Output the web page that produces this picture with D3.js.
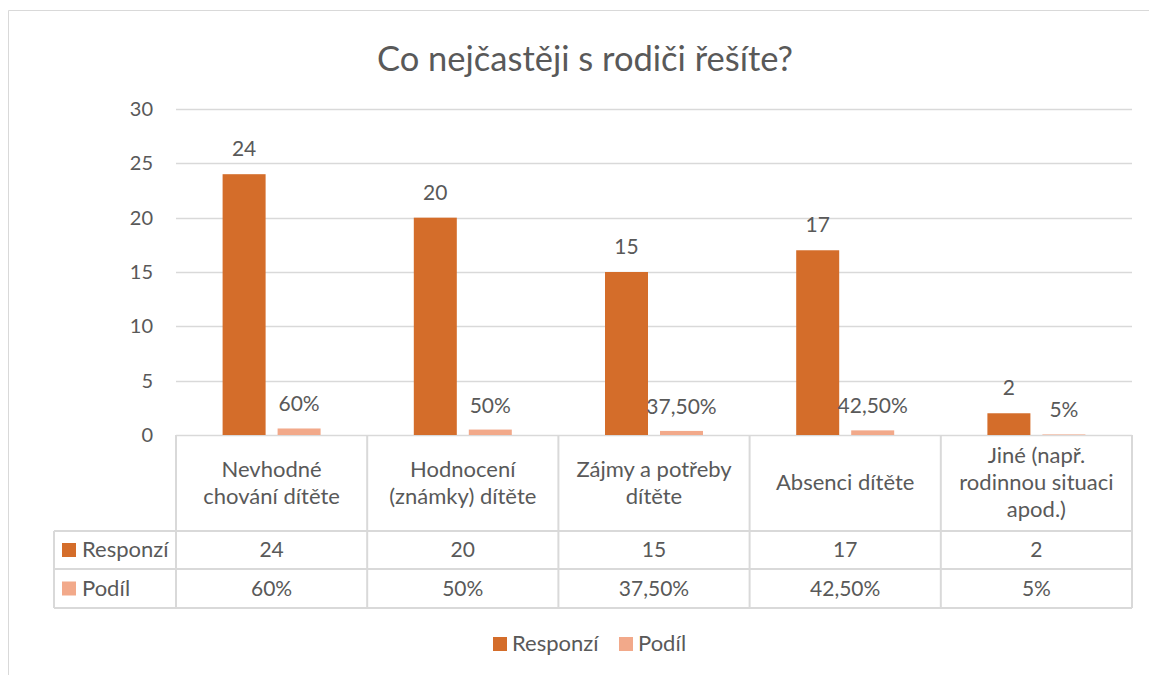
<!DOCTYPE html>
<html><head><meta charset="utf-8">
<script src="https://cdn.jsdelivr.net/npm/d3@7"></script>
<style>body{margin:0;background:#fff}svg text{font-family:Lato,"Open Sans",sans-serif;fill:#595959}</style>
</head><body><svg id="c" width="1149" height="675"></svg>
<script>
const title = "Co nejčastěji s rodiči řešíte?";
const categories = [["Nevhodné","chování dítěte"],["Hodnocení","(známky) dítěte"],["Zájmy a potřeby","dítěte"],["Absenci dítěte"],["Jiné (např.","rodinnou situaci","apod.)"]];
const responzi = [24,20,15,17,2];
const podil = [0.6,0.5,0.375,0.425,0.05];
const podilLabels = ["60%","50%","37,50%","42,50%","5%"];
const seriesNames = ["Responzí","Podíl"];
const colors = ["#D46D2A","#F2A98A"];
const yTicks = [0,5,10,15,20,25,30];

const svg = d3.select("#c");
const grid = "#d9d9d9";
const fs = "21px", fs2 = "22px";
svg.append("path").attr("d","M8.5,675 V10.5 H1149").attr("fill","none").attr("stroke",grid).attr("stroke-width",1);

const L=176,R=1132,T=109,B=435;
const x = d3.scaleBand().domain(d3.range(categories.length)).range([L,R]);
const y = d3.scaleLinear().domain([0,30]).range([B,T]);

svg.append("text").attr("x",585).attr("y",71).attr("text-anchor","middle").style("font-size","34.5px").text(title);

svg.selectAll(".g").data(yTicks).enter().append("line")
 .attr("x1",L).attr("x2",R).attr("y1",d=>Math.round(y(d))+0.5).attr("y2",d=>Math.round(y(d))+0.5)
 .attr("stroke",grid).attr("stroke-width",1.5);
svg.selectAll(".yt").data(yTicks).enter().append("text")
 .attr("x",153).attr("y",d=>y(d)+7).attr("text-anchor","end").style("font-size","20px").text(d=>d);

const bw = 43, gap = 12;
const cx = i => x(i)+x.bandwidth()/2;
svg.selectAll(".r").data(responzi).enter().append("rect")
 .attr("x",(d,i)=>cx(i)-bw-gap/2).attr("width",bw).attr("y",d=>y(d)).attr("height",d=>B-y(d)).attr("fill",colors[0]);
svg.selectAll(".p").data(podil).enter().append("rect")
 .attr("x",(d,i)=>cx(i)+gap/2).attr("width",bw).attr("y",d=>y(d)).attr("height",d=>B-y(d)).attr("fill",colors[1]);
svg.selectAll(".rl").data(responzi).enter().append("text")
 .attr("x",(d,i)=>cx(i)-bw/2-gap/2).attr("y",d=>y(d)-18).attr("text-anchor","middle").style("font-size",fs).text(d=>d);
svg.selectAll(".pl").data(podil).enter().append("text")
 .attr("x",(d,i)=>cx(i)+gap/2+bw/2).attr("y",d=>y(d)-17).attr("text-anchor","middle").style("font-size",fs).text((d,i)=>podilLabels[i]);

const rowH = [435,531,569,608];
const tl = 54;
const tbl = svg.append("g").attr("stroke",grid).attr("stroke-width",2).attr("fill","none");
x.domain().concat([categories.length]).forEach(i=>{
  const xx = i<categories.length ? x(i) : R;
  tbl.append("line").attr("x1",xx).attr("x2",xx).attr("y1",B).attr("y2",rowH[3]);
});
tbl.append("line").attr("x1",tl).attr("x2",tl).attr("y1",rowH[1]).attr("y2",rowH[3]);
[1,2,3].forEach(k=>tbl.append("line").attr("x1",tl).attr("x2",R).attr("y1",rowH[k]).attr("y2",rowH[k]));

categories.forEach((lines,i)=>{
  const mid = (rowH[0]+rowH[1])/2;
  const lh = 27;
  lines.forEach((t,j)=>{
    svg.append("text").attr("x",cx(i)).attr("y",mid+(j-(lines.length-1)/2)*lh+7)
      .attr("text-anchor","middle").style("font-size",fs2).text(t);
  });
  svg.append("text").attr("x",cx(i)).attr("y",(rowH[1]+rowH[2])/2+7).attr("text-anchor","middle").style("font-size",fs).text(responzi[i]);
  svg.append("text").attr("x",cx(i)).attr("y",(rowH[2]+rowH[3])/2+7).attr("text-anchor","middle").style("font-size",fs).text(podilLabels[i]);
});
seriesNames.forEach((n,k)=>{
  const my=(rowH[k+1]+rowH[k+2])/2;
  svg.append("rect").attr("x",62).attr("y",my-7).attr("width",14).attr("height",14).attr("fill",colors[k]);
  svg.append("text").attr("x",82).attr("y",my+7).style("font-size",fs2).text(n);
});
const lg = [[493,"Responzí"],[619,"Podíl"]];
lg.forEach((d,k)=>{
  svg.append("rect").attr("x",d[0]).attr("y",637).attr("width",14).attr("height",14).attr("fill",colors[k]);
  svg.append("text").attr("x",d[0]+19).attr("y",651).style("font-size",fs2).text(d[1]);
});
</script></body></html>
